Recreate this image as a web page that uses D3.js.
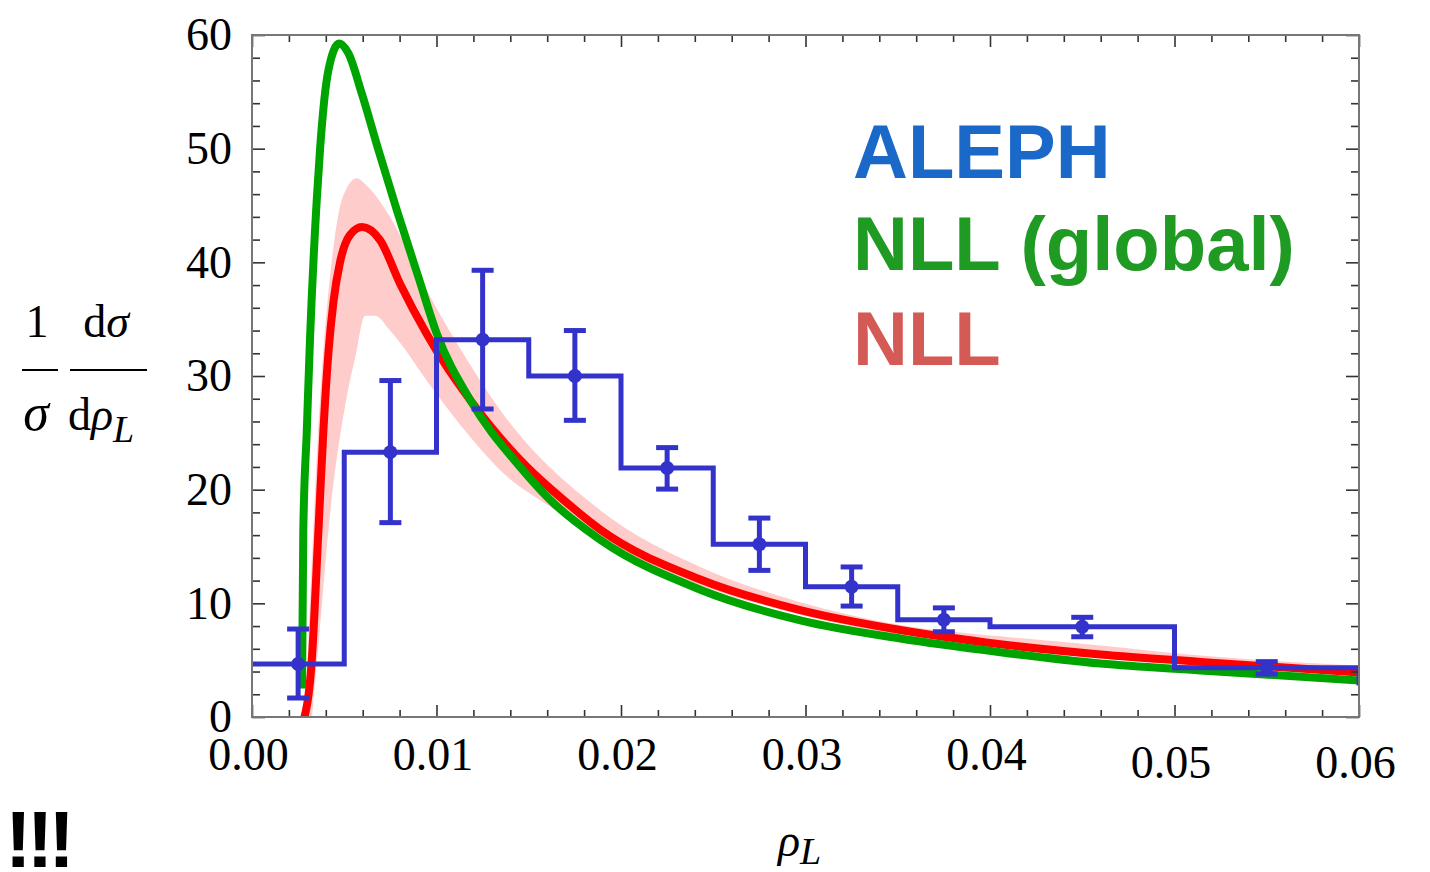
<!DOCTYPE html>
<html lang="en">
<head>
<meta charset="utf-8">
<title>rho_L distribution - ALEPH vs NLL</title>
<script src="https://d3js.org/d3.v7.min.js"></script>
<style>
  body { margin: 0; background: #fff; }
  .tick text { font-family: "Liberation Serif", "Times New Roman", serif; font-size: 46px; fill: #000; }
  .tick line { stroke: #333; stroke-width: 1.6px; }
  .lab { font-family: "Liberation Serif", "Times New Roman", serif; font-size: 46px; fill: #000; }
  .legend { font-family: "Liberation Sans", Arial, sans-serif; font-weight: bold; font-size: 76px; }
</style>
</head>
<body>
<script>
// ---- data ----
var xMajor = [0, 0.01, 0.02, 0.03, 0.04, 0.05, 0.06];
var xLabels = ["0.00", "0.01", "0.02", "0.03", "0.04", "0.05", "0.06"];
var yMajor = [0, 10, 20, 30, 40, 50, 60];

// ALEPH histogram (bin edges and contents)
var binEdges = [0, 0.005, 0.01, 0.015, 0.02, 0.025, 0.03, 0.035, 0.04, 0.05, 0.06, 0.07];
var binValues = [4.66, 23.3, 33.2, 30.0, 21.9, 15.2, 11.46, 8.56, 7.94, 4.34, 3.0];
// data points with error bars
var ptX = [0.0025, 0.0075, 0.0125, 0.0175, 0.0225, 0.0275, 0.0325, 0.0375, 0.045, 0.055];
var ptY = [4.66, 23.3, 33.2, 30.0, 21.9, 15.2, 11.46, 8.56, 7.94, 4.34];
var errHi = [7.74, 29.6, 39.3, 34.0, 23.7, 17.5, 13.2, 9.6, 8.77, 4.87];
var errLo = [1.67, 17.1, 27.1, 26.1, 20.05, 12.9, 9.76, 7.5, 7.06, 3.78];

// NLL (global)
var globX = [0.00271, 0.00278, 0.00297, 0.00315, 0.00351, 0.00369, 0.00414, 0.00473, 0.00522, 0.00595,
  0.00685, 0.00785, 0.00902, 0.01002, 0.01182, 0.01453, 0.01616, 0.01887, 0.0243, 0.02972,
  0.03514, 0.04056, 0.04599, 0.05141, 0.06009];
var globY = [2.5, 16.4, 25.2, 33.5, 45.5, 50.0, 56.9, 59.25, 58.4, 54.85,
  49.9, 44.6, 38.7, 33.7, 27.9, 22.0, 19.1, 15.6, 11.2, 8.5,
  6.9, 5.7, 4.7, 4.1, 3.2];

// NLL
var nllX = [0.00276, 0.00324, 0.0036, 0.00387, 0.00414, 0.00442, 0.00477, 0.00531, 0.00597, 0.00694, 0.00803,
  0.00947, 0.01056, 0.01182, 0.0149, 0.01688, 0.01887, 0.0243, 0.02972, 0.03514, 0.04056,
  0.04599, 0.05141, 0.06009];
var nllY = [-0.5, 5.0, 16.4, 25.2, 32.0, 36.6, 40.0, 42.4, 43.1, 41.95, 38.1,
  33.7, 30.8, 27.9, 22.0, 19.1, 16.5, 12.1, 9.4, 7.65, 6.4,
  5.5, 4.85, 3.9];

// NLL uncertainty band
var bandHiX = [0.00287, 0.00331, 0.00358, 0.00387, 0.00418, 0.00447, 0.00487, 0.00568, 0.00613, 0.00748, 0.00929,
  0.0111, 0.01345, 0.01887, 0.0243, 0.02972, 0.03514, 0.04056, 0.04599, 0.05141, 0.06009];
var bandHiY = [0, 16, 25, 32.3, 38.0, 42.0, 45.5, 47.4, 46.9, 44.0, 38.1,
  32.9, 27.0, 18.2, 13.2, 10.1, 8.1, 7.1, 6.3, 5.4, 4.5];
var bandLoX = [0.00325, 0.00369, 0.00414, 0.00514, 0.00559, 0.00613, 0.00667, 0.00748, 0.00983, 0.01182,
  0.01345, 0.01616, 0.01887, 0.0243, 0.02972, 0.03514, 0.04056, 0.04599, 0.05141, 0.06009];
var bandLoY = [0, 8, 16.4, 28.2, 31.6, 35.3, 35.3, 34.0, 28.8, 24.65,
  21.7, 18.5, 15.6, 11.6, 9.0, 7.2, 6.1, 5.2, 4.6, 3.6];

var legendNames = ["ALEPH", "NLL (global)", "NLL"];
var legendColors = ["#1a68c8", "#1f9a22", "#d45a55"];

// ---- drawing ----
var width = 1430, height = 872;
var svg = d3.select("body").append("svg")
  .attr("width", width)
  .attr("height", height);

var x = d3.scaleLinear().domain([0, 0.06]).range([252, 1359]);
var y = d3.scaleLinear().domain([0, 60]).range([717, 35]);

svg.append("defs").append("clipPath").attr("id", "plotclip")
  .append("rect")
  .attr("x", x(0)).attr("y", y(60))
  .attr("width", x(0.06) - x(0)).attr("height", y(0) - y(60));

var plot = svg.append("g").attr("clip-path", "url(#plotclip)");

function pts(xs, ys) { return xs.map(function(v, i) { return [v, ys[i]]; }); }

// band: fill pink under the upper edge, then white under the lower edge
var area = d3.area()
  .x(function(d) { return x(d[0]); })
  .y0(y(0))
  .y1(function(d) { return y(d[1]); })
  .curve(d3.curveMonotoneX);
plot.append("path").attr("d", area(pts(bandHiX, bandHiY))).attr("fill", "#ffcccc");
plot.append("path").attr("d", area(pts(bandLoX, bandLoY))).attr("fill", "#ffffff");

var line = d3.line()
  .x(function(d) { return x(d[0]); })
  .y(function(d) { return y(d[1]); })
  .curve(d3.curveMonotoneX);

plot.append("path").attr("d", line(pts(nllX, nllY)))
  .attr("fill", "none").attr("stroke", "#ff0000").attr("stroke-width", 8)
  .attr("stroke-linejoin", "round");

plot.append("path").attr("d", line(pts(globX, globY)))
  .attr("fill", "none").attr("stroke", "#00a400").attr("stroke-width", 8)
  .attr("stroke-linejoin", "round");

// histogram
var histPts = pts(binEdges.slice(0, -1), binValues);
histPts.push([binEdges[binEdges.length - 1], binValues[binValues.length - 1]]);
var step = d3.line()
  .x(function(d) { return x(d[0]); })
  .y(function(d) { return y(d[1]); })
  .curve(d3.curveStepAfter);
var blue = "#3333cc";
plot.append("path").attr("d", step(histPts))
  .attr("fill", "none").attr("stroke", blue).attr("stroke-width", 5);

// error bars and points
var eb = plot.selectAll("g.err").data(ptX).enter().append("g").attr("class", "err");
eb.append("line")
  .attr("x1", function(d) { return x(d); }).attr("x2", function(d) { return x(d); })
  .attr("y1", function(d, i) { return y(errHi[i]); })
  .attr("y2", function(d, i) { return y(errLo[i]); })
  .attr("stroke", blue).attr("stroke-width", 5);
[errHi, errLo].forEach(function(arr) {
  eb.append("line")
    .attr("x1", function(d) { return x(d) - 11; }).attr("x2", function(d) { return x(d) + 11; })
    .attr("y1", function(d, i) { return y(arr[i]); })
    .attr("y2", function(d, i) { return y(arr[i]); })
    .attr("stroke", blue).attr("stroke-width", 5);
});
eb.append("circle")
  .attr("cx", function(d) { return x(d); })
  .attr("cy", function(d, i) { return y(ptY[i]); })
  .attr("r", 7).attr("fill", blue);

// ---- axes (ticks inside, on all four sides) ----
var xMinor = d3.range(0, 0.0601, 0.002).filter(function(v) { return Math.abs(v * 100 - Math.round(v * 100)) > 1e-6; });
var yMinor = d3.range(0, 60.01, 2).filter(function(v) { return v % 10 !== 0; });

function noLab() { return ""; }

var gb = svg.append("g").attr("transform", "translate(0," + y(0) + ")")
  .call(d3.axisBottom(x).tickValues(xMajor).tickSizeInner(-12).tickSizeOuter(0).tickPadding(20)
    .tickFormat(function(d, i) { return xLabels[i]; }));
// 0.05 and 0.06 sit a little lower in the original
gb.selectAll(".tick text").attr("dy", function(d) { return d >= 0.049 ? "0.89em" : "0.71em"; })
  .attr("dx", "-4");
svg.append("g").attr("transform", "translate(0," + y(0) + ")")
  .call(d3.axisBottom(x).tickValues(xMinor).tickSizeInner(-7).tickSizeOuter(0).tickFormat(noLab));

svg.append("g").attr("transform", "translate(0," + y(60) + ")")
  .call(d3.axisTop(x).tickValues(xMajor).tickSizeInner(-12).tickSizeOuter(0).tickFormat(noLab));
svg.append("g").attr("transform", "translate(0," + y(60) + ")")
  .call(d3.axisTop(x).tickValues(xMinor).tickSizeInner(-7).tickSizeOuter(0).tickFormat(noLab));

svg.append("g").attr("transform", "translate(" + x(0) + ",0)")
  .call(d3.axisLeft(y).tickValues(yMajor).tickSizeInner(-13).tickSizeOuter(0).tickPadding(20));
svg.append("g").attr("transform", "translate(" + x(0) + ",0)")
  .call(d3.axisLeft(y).tickValues(yMinor).tickSizeInner(-8).tickSizeOuter(0).tickFormat(noLab));

svg.append("g").attr("transform", "translate(" + x(0.06) + ",0)")
  .call(d3.axisRight(y).tickValues(yMajor).tickSizeInner(-13).tickSizeOuter(0).tickFormat(noLab));
svg.append("g").attr("transform", "translate(" + x(0.06) + ",0)")
  .call(d3.axisRight(y).tickValues(yMinor).tickSizeInner(-8).tickSizeOuter(0).tickFormat(noLab));

svg.selectAll(".domain").remove();

svg.append("rect")
  .attr("x", x(0)).attr("y", y(60))
  .attr("width", x(0.06) - x(0)).attr("height", y(0) - y(60))
  .attr("fill", "none").attr("stroke", "#777").attr("stroke-width", 2);

// ---- legend ----
var legY = [178, 270, 365];
svg.selectAll("text.legend").data(legendNames).enter().append("text")
  .attr("class", "legend")
  .attr("x", 853)
  .attr("y", function(d, i) { return legY[i]; })
  .attr("fill", function(d, i) { return legendColors[i]; })
  .text(function(d) { return d; });

// ---- y axis label: (1/sigma) dsigma/drho_L ----
var yl = svg.append("g").attr("class", "lab");
yl.append("text").attr("x", 37).attr("y", 337).attr("text-anchor", "middle").text("1");
yl.append("text").attr("x", 36).attr("y", 430).attr("text-anchor", "middle")
  .style("font-style", "italic").style("font-size", "52px").text("σ");
yl.append("line").attr("x1", 22).attr("x2", 58).attr("y1", 370).attr("y2", 370)
  .attr("stroke", "#000").attr("stroke-width", 2);
var t1 = yl.append("text").attr("x", 106).attr("y", 337).attr("text-anchor", "middle");
t1.append("tspan").text("d");
t1.append("tspan").style("font-style", "italic").text("σ");
yl.append("line").attr("x1", 70).attr("x2", 147).attr("y1", 370).attr("y2", 370)
  .attr("stroke", "#000").attr("stroke-width", 2);
var t2 = yl.append("text").attr("x", 68).attr("y", 430);
t2.append("tspan").text("d");
t2.append("tspan").style("font-style", "italic").text("ρ");
t2.append("tspan").style("font-style", "italic").style("font-size", "38px").attr("dy", 12).text("L");

// ---- x axis label ----
var xl = svg.append("text").attr("class", "lab").attr("x", 778).attr("y", 856);
xl.append("tspan").style("font-style", "italic").text("ρ");
xl.append("tspan").style("font-style", "italic").style("font-size", "38px").attr("dy", 8).text("L");

// ---- "!!!" mark ----
svg.append("text")
  .attr("x", 5).attr("y", 867)
  .style("font-family", "'Liberation Sans', Arial, sans-serif")
  .style("font-weight", "bold").style("font-size", "80px")
  .style("letter-spacing", "-5px")
  .text("!!!");
</script>
</body>
</html>
